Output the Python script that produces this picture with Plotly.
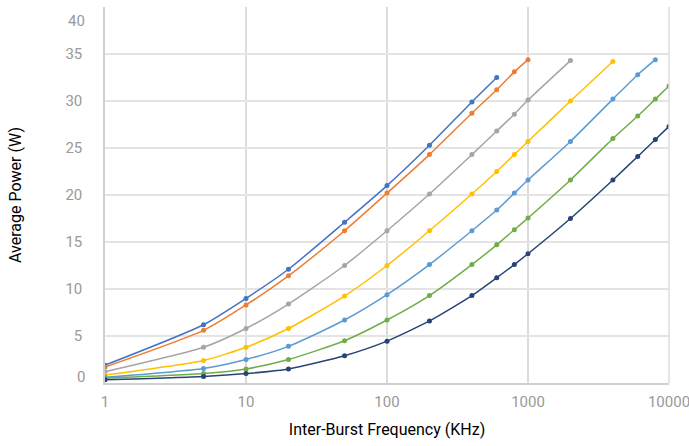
import plotly.graph_objects as go

freq_all = [1, 5, 10, 20, 50, 100, 200, 400, 600, 800, 1000, 2000, 4000, 6000, 8000, 10000]

s1 = [1.9, 6.2, 9.0, 12.1, 17.1, 21.0, 25.3, 29.9, 32.5]
s2 = [1.7, 5.6, 8.3, 11.4, 16.2, 20.2, 24.3, 28.7, 31.2, 33.1, 34.4]
s3 = [1.2, 3.8, 5.8, 8.4, 12.5, 16.2, 20.1, 24.3, 26.8, 28.6, 30.1, 34.3]
s4 = [0.85, 2.4, 3.8, 5.8, 9.25, 12.5, 16.2, 20.1, 22.5, 24.3, 25.7, 30.0, 34.2]
s5 = [0.6, 1.55, 2.5, 3.9, 6.7, 9.4, 12.6, 16.2, 18.4, 20.2, 21.6, 25.7, 30.2, 32.8, 34.4]
s6 = [0.5, 1.0, 1.5, 2.5, 4.5, 6.7, 9.3, 12.6, 14.7, 16.3, 17.55, 21.6, 26.0, 28.4, 30.2, 31.6]
s7 = [0.35, 0.7, 1.0, 1.5, 2.9, 4.45, 6.6, 9.3, 11.2, 12.6, 13.75, 17.5, 21.6, 24.1, 25.9, 27.3]

y_ticks = [0, 5, 10, 15, 20, 25, 30, 35, 40]
x_ticks = [1, 10, 100, 1000, 10000]

series = [s1, s2, s3, s4, s5, s6, s7]
colors = ["#4472C4", "#ED7D31", "#A5A5A5", "#FFC000", "#5B9BD5", "#70AD47", "#264478"]

fig = go.Figure()
for vals, c in zip(series, colors):
    fig.add_trace(go.Scatter(
        x=freq_all[:len(vals)], y=vals, mode="lines+markers",
        line=dict(color=c, width=1.5, shape="spline", smoothing=0.6),
        marker=dict(color=c, size=5),
        showlegend=False, hoverinfo="skip",
    ))

tick_font = dict(family="Roboto", color="#999999", size=15)

fig.update_layout(
    width=689, height=446,
    margin=dict(l=105, r=20, t=7, b=63),
    paper_bgcolor="white", plot_bgcolor="white",
    font=dict(family="Roboto", size=16, color="#000000"),
)
fig.update_xaxes(
    type="log", range=[0, 4], automargin=False,
    tickvals=x_ticks, ticktext=[str(v) for v in x_ticks],
    showgrid=True, gridcolor="#dcdcdc", gridwidth=1.5,
    showline=True, linecolor="#d0d0d0", linewidth=1.5, mirror=False,
    ticks="", tickfont=tick_font, ticklabelstandoff=4, ticklabeloverflow="allow",
    title=dict(text="Inter-Burst Frequency (KHz)", font=dict(size=16, color="#000"), standoff=14),
    zeroline=False,
)
fig.update_yaxes(
    range=[0, 40], automargin=False,
    tickvals=y_ticks, ticktext=["" if v in (0, 40) else str(v) for v in y_ticks],
    showgrid=True, gridcolor="#e4e4e4", gridwidth=1.5,
    showline=True, linecolor="#d0d0d0", linewidth=1.5,
    ticks="", tickfont=tick_font, ticklabelstandoff=18,
    title=dict(text="Average Power (W)", font=dict(size=16, color="#000"), standoff=40),
    zeroline=False,
)
# end tick labels, shifted inward as in the reference
for v, shift in ((0, 6), (40, -14)):
    fig.add_annotation(x=0, xref="paper", y=v, yref="y", text=str(v),
                       showarrow=False, xanchor="right", xshift=-18, yshift=shift,
                       font=tick_font)
# right border line at 10000
fig.add_shape(type="line", xref="paper", yref="paper", x0=1, x1=1, y0=0, y1=1,
              line=dict(color="#dcdcdc", width=1.5))

fig.write_html("out.html", config={"displayModeBar": False},
               post_script="document.body.style.margin='0';document.body.style.overflow='hidden';")
